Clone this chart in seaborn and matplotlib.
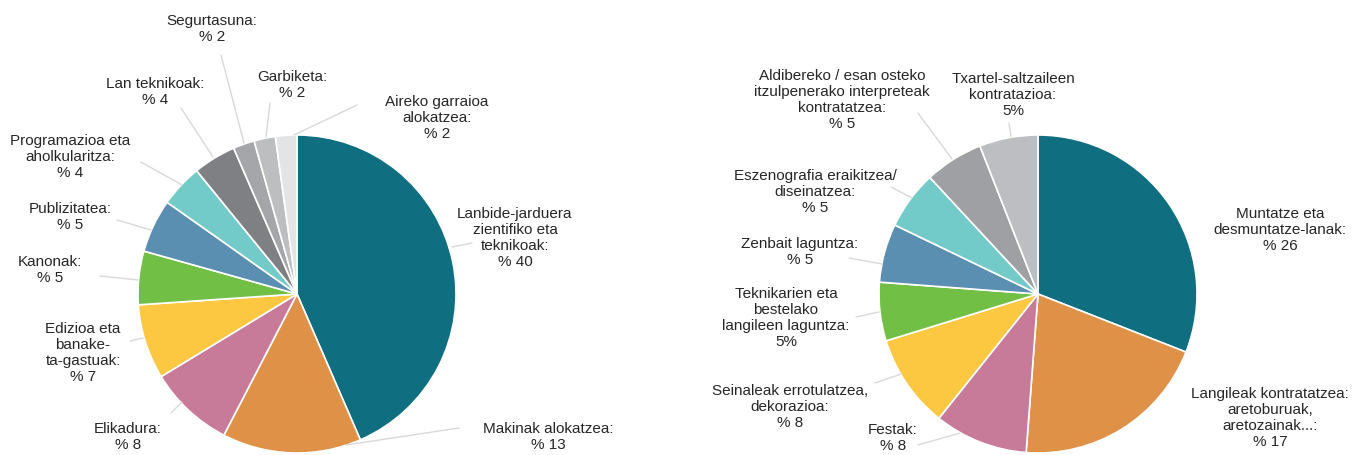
import matplotlib
matplotlib.use("Agg")
import matplotlib.pyplot as plt
import seaborn as sns

# ---------------- data ----------------
left_names = [
    "Lanbide-jarduera\nzientifiko eta\nteknikoak:",
    "Makinak alokatzea:",
    "Elikadura:",
    "Edizioa eta\nbanake-\nta-gastuak:",
    "Kanonak:",
    "Publizitatea:",
    "Programazioa eta\naholkularitza:",
    "Lan teknikoak:",
    "Segurtasuna:",
    "Garbiketa:",
    "Aireko garraioa\nalokatzea:",
]
left_values = [40, 13, 8, 7, 5, 5, 4, 4, 2, 2, 2]
left_value_text = ["% 40", "% 13", "% 8", "% 7", "% 5", "% 5", "% 4", "% 4", "% 2", "% 2", "% 2"]
left_colors = ["#0f6e80", "#de9147", "#c87a99", "#fcc741", "#71bf44", "#5b8fb2",
               "#72cbc8", "#7f8084", "#a5a6a9", "#bdbec0", "#e3e4e6"]

right_names = [
    "Muntatze eta\ndesmuntatze-lanak:",
    "Langileak kontratatzea:\naretoburuak,\naretozainak...:",
    "Festak:",
    "Seinaleak errotulatzea,\ndekorazioa:",
    "Teknikarien eta\nbestelako\nlangileen laguntza:",
    "Zenbait laguntza:",
    "Eszenografia eraikitzea/\ndiseinatzea:",
    "Aldibereko / esan osteko\nitzulpenerako interpreteak\nkontratatzea:",
    "Txartel-saltzaileen\nkontratazioa:",
]
right_values = [26, 17, 8, 8, 5, 5, 5, 5, 5]
right_value_text = ["% 26", "% 17", "% 8", "% 8", "5%", "% 5", "% 5", "% 5", "5%"]
right_colors = ["#0f6e80", "#de9147", "#c87a99", "#fcc741", "#71bf44", "#5b8fb2",
                "#72cbc8", "#9fa0a3", "#bdbec1"]

# ---------------- layout (pixel coordinates, y downward) ----------------
W, H = 1352, 455
left_center, right_center, radius = (297, 294), (1038, 294), 159

left_text_pos = [(515, 238), (548, 437), (128, 437), (83, 353), (50, 270), (70, 217),
                 (70, 157), (155, 92), (212, 29), (292, 85), (437, 118)]
left_leaders = [((472, 243), (452, 247)), ((459, 428), (346, 445)), ((171, 413), (182, 402)),
                ((130, 341), (143, 338)), ((100, 276), (138, 280)), ((117, 220), (151, 230)),
                ((141, 162), (182, 185)), ((181, 108), (213, 157)), ((221, 55), (244, 143)),
                ((270, 103), (266, 137)), ((357, 105), (294, 135))]

right_text_pos = [(1280, 230), (1270, 418), (893, 438), (790, 407), (786, 318), (800, 252),
                  (815, 192), (842, 100), (1013, 95)]
right_leaders = [None, None, ((918, 445), (960, 433)), ((875, 383), (901, 374)),
                 ((856, 317), (879, 312)), ((849, 258), (882, 264)), ((891, 187), (912, 198)),
                 ((918, 113), (952, 159)), ((1009, 123), (1011, 137))]

sns.set_theme(style="white")
plt.rcParams["font.family"] = ["Liberation Sans", "DejaVu Sans"]

fig = plt.figure(figsize=(W / 100, H / 100), dpi=100)
ax = fig.add_axes([0, 0, 1, 1])


def fy(y):
    return H - y


def draw(values, colors, names, vtexts, center, tpos, leaders):
    ax.pie(values, colors=colors, startangle=90, counterclock=False,
           center=(center[0], fy(center[1])), radius=radius,
           wedgeprops=dict(edgecolor="white", linewidth=1.2))
    for name, vt, (tx, ty), ld in zip(names, vtexts, tpos, leaders):
        ax.text(tx, fy(ty), name + "\n" + vt, ha="center", va="center",
                fontsize=11.0, color="#262626", linespacing=1.2)
        if ld is not None:
            (x0, y0), (x1, y1) = ld
            ax.plot([x0, x1], [fy(y0), fy(y1)], color="#d9d9d9", lw=1)


draw(left_values, left_colors, left_names, left_value_text, left_center,
     left_text_pos, left_leaders)
draw(right_values, right_colors, right_names, right_value_text, right_center,
     right_text_pos, right_leaders)

ax.set_xlim(0, W)
ax.set_ylim(0, H)
ax.set_aspect("equal")
ax.axis("off")
fig.savefig("out.png", dpi=100, facecolor="white")
